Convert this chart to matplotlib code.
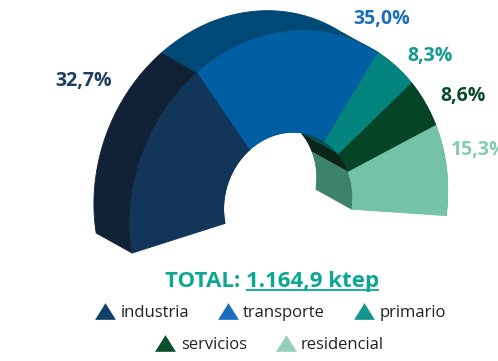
import numpy as np
import matplotlib
matplotlib.use('Agg')
import matplotlib.pyplot as plt
from matplotlib.patches import Polygon
from matplotlib.lines import Line2D

# ---------------- data ----------------
categories = ['industria', 'transporte', 'primario', 'servicios', 'residencial']
values = [32.7, 35.0, 8.3, 8.6, 15.3]
value_labels = ['32,7%', '35,0%', '8,3%', '8,6%', '15,3%']
total_prefix = 'TOTAL: '
total_value = '1.164,9 ktep'

# ---------------- styles ----------------
face_colors = ['#12355a', '#005fa3', '#03847e', '#054427', '#73c4a7']
wall_colors = ['#112136', '#004977', '#0b4d50', '#0b2619', '#3d826b']
label_colors = ['#1b3d60', '#1a6fc0', '#139a90', '#0a4a2a', '#85cbb0']
legend_colors = ['#123f66', '#1a6cbd', '#13958f', '#0b4f2e', '#93d1bb']
total_color = '#0aa893'

# 3D-like projection of the half-donut (pixel space): centre, two axis vectors, span
OUT_C, OUT_U, OUT_V, OUT_SPAN = (288.79, 207.41), (156.63, -45.66), (-26.62, -170.74), 3.4495
IN_C, IN_U, IN_V, IN_SPAN = (288.16, 203.33), (63.17, -20.13), (-13.35, -68.23), 3.5123
DEPTH = np.array([-36.0, -20.0])

# label anchors (x, y, ha)
label_anchor = [(112, 81, 'right'), (353, 19, 'left'), (407, 56.5, 'left'),
                (440, 96.5, 'left'), (451, 150.5, 'left')]

plt.rcParams['font.family'] = ['Open Sans', 'DejaVu Sans']


def ring(c, u, v, span, ts):
    ph = np.pi - span * np.asarray(ts)
    x = c[0] + u[0] * np.cos(ph) + v[0] * np.sin(ph)
    y = c[1] + u[1] * np.cos(ph) + v[1] * np.sin(ph)
    return np.column_stack([x, y])


fig = plt.figure(figsize=(4.98, 3.61), dpi=100)
ax = fig.add_axes([0, 0, 1, 1])
ax.set_xlim(0, 498)
ax.set_ylim(361, 0)
ax.axis('off')

cum = np.concatenate([[0], np.cumsum(values)]) / sum(values)
segs = []
for i in range(len(values)):
    ts = np.linspace(cum[i], cum[i + 1], 80)
    segs.append((ring(OUT_C, OUT_U, OUT_V, OUT_SPAN, ts), ring(IN_C, IN_U, IN_V, IN_SPAN, ts)))

# side walls (outer and inner)
for i, (o, n) in enumerate(segs):
    ax.add_patch(Polygon(np.vstack([o, (o + DEPTH)[::-1]]), closed=True,
                         fc=wall_colors[i], ec=wall_colors[i], lw=0.6))
    ax.add_patch(Polygon(np.vstack([n, (n + DEPTH)[::-1]]), closed=True,
                         fc=wall_colors[i], ec=wall_colors[i], lw=0.6))
# front faces
for i, (o, n) in enumerate(segs):
    ax.add_patch(Polygon(np.vstack([o, n[::-1]]), closed=True,
                         fc=face_colors[i], ec=face_colors[i], lw=0.6))

# value labels
for i, (x, y, ha) in enumerate(label_anchor):
    ax.text(x, y, value_labels[i], ha=ha, va='center', fontsize=14,
            fontweight='bold', color=label_colors[i])

# total line
t_full = ax.text(165, 287.5, total_prefix + total_value, ha='left', va='baseline',
                 fontsize=16, fontweight='bold', color=total_color)
t_num = ax.text(0, 0, total_value, fontsize=16, fontweight='bold', alpha=0)
fig.canvas.draw()
r = fig.canvas.get_renderer()
bb_full = t_full.get_window_extent(r)
bb_num = t_num.get_window_extent(r)
inv = ax.transData.inverted()
x1 = inv.transform((bb_full.x1, 0))[0]
x0 = inv.transform((bb_full.x1 - bb_num.width, 0))[0]
ax.plot([x0, x1], [289.5, 289.5], color=total_color, lw=1.3, solid_capstyle='butt')

# legend
tri = [(-1, -0.8), (1, -0.8), (0, 0.8)]
handles = [Line2D([], [], ls='none', marker=tri, ms=15, color=legend_colors[i],
                  markeredgewidth=0) for i in range(len(categories))]
common = dict(frameon=False, fontsize=12, handlelength=1.25, handletextpad=0.3,
              columnspacing=1.7, borderpad=0, labelcolor='#222222', loc='center')
leg1 = fig.legend(handles[:3], categories[:3], ncol=3,
                  bbox_to_anchor=(270 / 498, 1 - 313 / 361), **common)
leg2 = fig.legend(handles[3:], categories[3:], ncol=2,
                  bbox_to_anchor=(269.5 / 498, 1 - 345 / 361), **common)

fig.savefig('out.png', dpi=100)
